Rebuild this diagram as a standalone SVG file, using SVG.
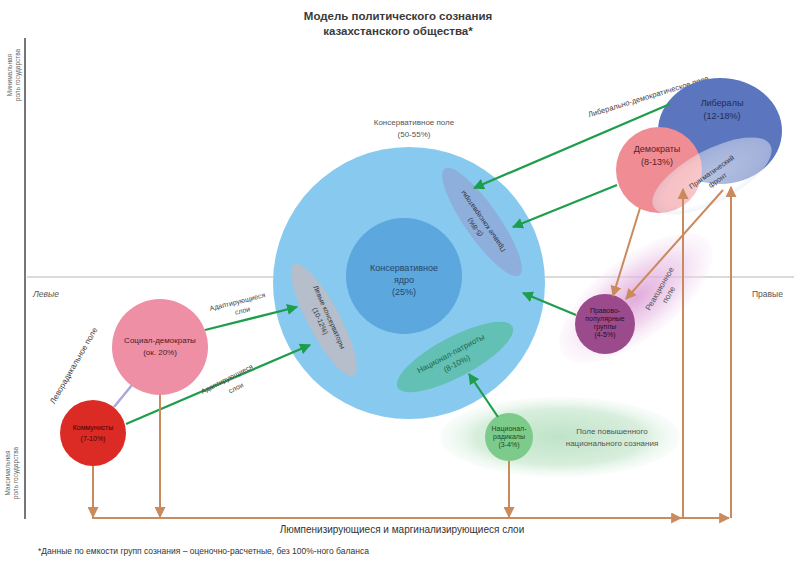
<svg xmlns="http://www.w3.org/2000/svg" width="794" height="561" viewBox="0 0 794 561">
<style>
text{font-family:"Liberation Sans","DejaVu Sans",sans-serif;fill:#333;}
.t{font-size:9px;text-anchor:middle;}
.s{font-size:8px;text-anchor:middle;}
.xs{font-size:7px;text-anchor:middle;}
.g{stroke:#1e9e4c;stroke-width:2.2;fill:none;marker-end:url(#ga);}
.o{stroke:#c98b5e;stroke-width:2;fill:none;}
.oa{marker-end:url(#oa);}
</style>
<defs>
<marker id="ga" viewBox="0 0 10 10" refX="9" refY="5" markerWidth="5" markerHeight="5" orient="auto" markerUnits="strokeWidth"><path d="M0,0 L10,5 L0,10 z" fill="#1e9e4c"/></marker>
<marker id="oa" viewBox="0 0 10 10" refX="9" refY="5" markerWidth="5.5" markerHeight="5.5" orient="auto" markerUnits="strokeWidth"><path d="M0,0 L10,5 L0,10 z" fill="#c98b5e"/></marker>
<radialGradient id="pg" cx="0.5" cy="0.5" r="0.5"><stop offset="0" stop-color="#d88fd0" stop-opacity="0.75"/><stop offset="0.6" stop-color="#e9c2e6" stop-opacity="0.6"/><stop offset="1" stop-color="#f6e6f5" stop-opacity="0.2"/></radialGradient>
<radialGradient id="gg" cx="0.5" cy="0.5" r="0.5"><stop offset="0" stop-color="#bfe3c8"/><stop offset="0.7" stop-color="#d7eedc"/><stop offset="1" stop-color="#eef8f0" stop-opacity="0.3"/></radialGradient>
<radialGradient id="fg" cx="0.5" cy="0.5" r="0.5"><stop offset="0" stop-color="#ffffff" stop-opacity="0.55"/><stop offset="0.8" stop-color="#ffffff" stop-opacity="0.45"/><stop offset="1" stop-color="#dfe6f5" stop-opacity="0.5"/></radialGradient>
</defs>
<rect width="794" height="561" fill="#ffffff"/>

<g id="title">
<text x="398" y="20" style="font-size:11.5px;font-weight:bold;text-anchor:middle;fill:#3a3a3a;">Модель политического сознания</text>
<text x="398" y="35" style="font-size:11.5px;font-weight:bold;text-anchor:middle;fill:#3a3a3a;">казахстанского общества*</text>
</g>

<g id="axes">
<line x1="25" y1="38" x2="25" y2="519" stroke="#777" stroke-width="2"/>
<line x1="27" y1="277" x2="794" y2="277" stroke="#b5b5b5" stroke-width="1"/>
<text transform="translate(12,75) rotate(-90)" style="font-size:6.5px;text-anchor:middle;fill:#666;">Минимальная</text>
<text transform="translate(20,75) rotate(-90)" style="font-size:6.5px;text-anchor:middle;fill:#666;">роль государства</text>
<text transform="translate(10,473) rotate(-90)" style="font-size:6.5px;text-anchor:middle;fill:#666;">Максимальная</text>
<text transform="translate(18,473) rotate(-90)" style="font-size:6.5px;text-anchor:middle;fill:#666;">роль государства</text>
<text x="33" y="297" style="font-size:8.5px;font-style:italic;fill:#555;">Левые</text>
<text x="752" y="297" style="font-size:8.5px;fill:#555;">Правые</text>
</g>

<g id="fields">
<ellipse cx="636" cy="298" rx="92" ry="40" transform="rotate(-38 636 298)" fill="url(#pg)"/>
<text transform="translate(662,290) rotate(-60)" class="s" style="fill:#555;">Реакционное</text>
<text transform="translate(671,296) rotate(-60)" class="s" style="fill:#555;">поле</text>
<ellipse cx="560" cy="437" rx="120" ry="40" fill="url(#gg)"/>
<text x="612" y="434" class="s" style="fill:#555;">Поле повышенного</text>
<text x="612" y="446" class="s" style="fill:#555;">национального сознания</text>
<text transform="translate(649,99) rotate(-17)" style="font-size:7.6px;text-anchor:middle;fill:#444;">Либерально-демократическое поле</text>
<text transform="translate(76,367) rotate(-60)" class="s" style="fill:#444;">Леворадикальное поле</text>
</g>

<g id="conservative-field">
<circle cx="409" cy="283" r="136" fill="#88caef"/>
<text x="414" y="125" class="s" style="fill:#555;">Консервативное поле</text>
<text x="414" y="137" class="s" style="fill:#555;">(50-55%)</text>
</g>
<g id="conservative-core">
<circle cx="404" cy="276" r="58" fill="#5ca7dd"/>
<text x="404" y="271" class="t" style="fill:#24466b;">Консервативное</text>
<text x="404" y="283" class="t" style="fill:#24466b;">ядро</text>
<text x="404" y="295" class="t" style="fill:#24466b;">(25%)</text>
</g>
<g id="right-conservatives">
<ellipse cx="482" cy="222" rx="65" ry="17" transform="rotate(55 482 222)" fill="#8eaedc"/>
<text transform="translate(485,220) rotate(235)" class="xs" style="fill:#333;">Правые консерваторы</text>
<text transform="translate(477,226) rotate(235)" class="xs" style="fill:#333;">(5-8%)</text>
</g>
<g id="left-conservatives">
<ellipse cx="324" cy="320" rx="63" ry="16" transform="rotate(62 324 320)" fill="#b6bdcb"/>
<text transform="translate(327,318) rotate(66)" class="xs" style="fill:#333;">Левые консерваторы</text>
<text transform="translate(318,322) rotate(66)" class="xs" style="fill:#333;">(10-12%)</text>
</g>
<g id="national-patriots">
<ellipse cx="455" cy="357" rx="65" ry="20" transform="rotate(-28 455 357)" fill="#62c0b5"/>
<text transform="translate(452,356) rotate(-28)" class="s" style="fill:#264;">Национал-патриоты</text>
<text transform="translate(458,366) rotate(-28)" class="s" style="fill:#264;">(8-10%)</text>
</g>

<g id="liberals">
<ellipse cx="720" cy="131" rx="62" ry="53" fill="#5b75be"/>
<text x="722" y="106" class="t" style="fill:#1f2d55;">Либералы</text>
<text x="722" y="119" class="t" style="fill:#1f2d55;">(12-18%)</text>
</g>
<g id="democrats">
<circle cx="659" cy="170" r="43" fill="#f08c93"/>
<text x="657" y="152" class="t" style="fill:#5a1e25;">Демократы</text>
<text x="657" y="165" class="t" style="fill:#5a1e25;">(8-13%)</text>
</g>
<g id="pragmatic-front">
<ellipse cx="712" cy="176" rx="66" ry="26" transform="rotate(-28 712 176)" fill="url(#fg)"/>
<text transform="translate(713,174) rotate(-35)" class="xs" style="fill:#333;">Прагматический</text>
<text transform="translate(719,182) rotate(-35)" class="xs" style="fill:#333;">фронт</text>
</g>
<g id="right-populists">
<circle cx="605" cy="324" r="30" fill="#9b4b8c"/>
<text x="605" y="313" class="xs" style="fill:#2a0f25;">Правово-</text>
<text x="605" y="321" class="xs" style="fill:#2a0f25;">популярные</text>
<text x="605" y="329" class="xs" style="fill:#2a0f25;">группы</text>
<text x="605" y="337" class="xs" style="fill:#2a0f25;">(4-5%)</text>
</g>
<g id="national-radicals">
<circle cx="509" cy="437" r="24" fill="#7ccb8b"/>
<text x="509" y="431" class="xs" style="fill:#1d4a25;">Национал-</text>
<text x="509" y="439" class="xs" style="fill:#1d4a25;">радикалы</text>
<text x="509" y="447" class="xs" style="fill:#1d4a25;">(3-4%)</text>
</g>
<g id="social-democrats">
<circle cx="160" cy="347" r="48" fill="#ee8fa6"/>
<text x="160" y="343" class="s" style="fill:#4a1c28;">Социал-демократы</text>
<text x="160" y="355" class="s" style="fill:#4a1c28;">(ок. 20%)</text>
</g>
<g id="communists">
<circle cx="93" cy="433" r="33" fill="#dc2a25"/>
<text x="93" y="430" class="xs" style="fill:#3a0807;">Коммунисты</text>
<text x="93" y="441" class="xs" style="fill:#3a0807;">(7-10%)</text>
</g>

<g id="connectors">
<line x1="132" y1="385" x2="114" y2="407" stroke="#a9a9d8" stroke-width="2.5"/>
<line class="g" x1="670" y1="104" x2="474" y2="188"/>
<line class="g" x1="617" y1="185" x2="513" y2="227"/>
<line class="g" x1="576" y1="315" x2="523" y2="293"/>
<line class="g" x1="498" y1="417" x2="469" y2="374"/>
<line class="g" x1="205" y1="330" x2="297" y2="307"/>
<line class="g" x1="126" y1="424" x2="310" y2="345"/>
<text transform="translate(238,304) rotate(-14)" class="xs" style="fill:#444;">Адаптирующиеся</text>
<text transform="translate(243,313) rotate(-14)" class="xs" style="fill:#444;">слои</text>
<text transform="translate(228,381) rotate(-27)" class="xs" style="fill:#444;">Адаптирующиеся</text>
<text transform="translate(237,390) rotate(-27)" class="xs" style="fill:#444;">слои</text>

<path class="o oa" d="M93,466 L93,517"/>
<path class="o oa" d="M160,395 L160,517"/>
<path class="o oa" d="M509,461 L509,517"/>
<path class="o" d="M92,518 L683,518"/>
<path class="o oa" d="M92,518 L681,518"/>
<path class="o oa" d="M683,518 L729,518"/>
<path class="o oa" d="M683,518 L683,189"/>
<path class="o oa" d="M731,518 L731,187"/>
<path class="o oa" d="M640,208 L613,296"/>
<path class="o oa" d="M723,190 L626,299"/>
</g>

<g id="footer">
<text x="402" y="533" style="font-size:10px;text-anchor:middle;fill:#333;">Люмпенизирующиеся и маргинализирующиеся слои</text>
<text x="38" y="554" style="font-size:8.5px;fill:#333;">*Данные по емкости групп сознания – оценочно-расчетные, без 100%-ного баланса</text>
</g>
</svg>
